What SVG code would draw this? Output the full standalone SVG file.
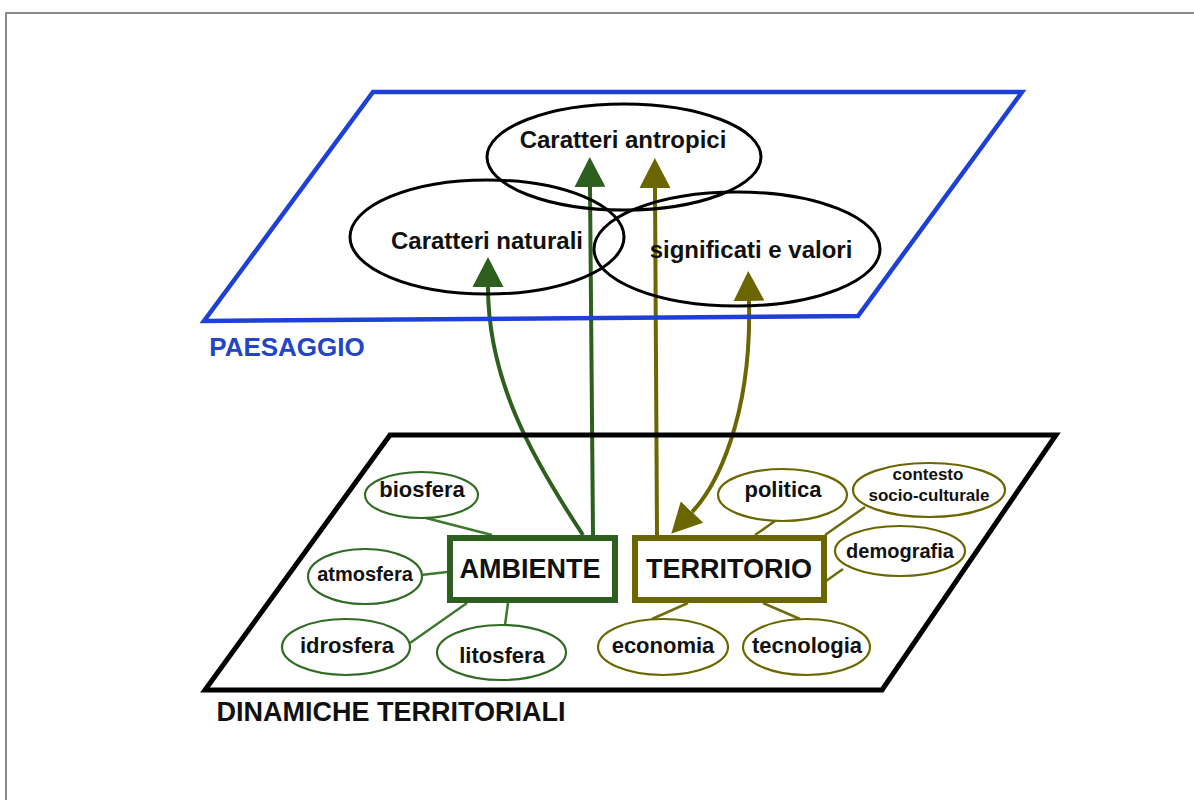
<svg xmlns="http://www.w3.org/2000/svg" width="1194" height="800" viewBox="0 0 1194 800">
<style>
text{font-family:"Liberation Sans",Arial,Helvetica,sans-serif;font-weight:bold;fill:#111;text-anchor:middle}
.big{fill:none;stroke:#000;stroke-width:3}
.gn{fill:#fff;stroke:#2f6b22;stroke-width:2.2}
.ol{fill:#fff;stroke:#6b6700;stroke-width:2.2}
.gl{stroke:#3d7a30;stroke-width:2.5;fill:none}
.oll{stroke:#6f6c10;stroke-width:2.5;fill:none}
.ga{stroke:#2d5f1f;stroke-width:4;fill:none}
.oa{stroke:#6b6600;stroke-width:4;fill:none}
.s{font-size:22px}
.t{font-size:24px}
</style>
<defs>
<marker id="hg" viewBox="0 0 30 31" refX="0" refY="15.5" markerWidth="30" markerHeight="31" markerUnits="userSpaceOnUse" orient="auto-start-reverse"><path d="M0,0 L30,15.5 L0,31 z" fill="#2d5f1f"/></marker>
<marker id="ho" viewBox="0 0 30 31" refX="0" refY="15.5" markerWidth="30" markerHeight="31" markerUnits="userSpaceOnUse" orient="auto-start-reverse"><path d="M0,0 L30,15.5 L0,31 z" fill="#6b6600"/></marker>
</defs>
<rect width="1194" height="800" fill="#fff"/>
<path d="M6,800 V13 H1194" fill="none" stroke="#8a8a8a" stroke-width="2"/>

<g id="connectors">
<path class="ga" d="M583,535 C532,458 488,380 488,287" marker-end="url(#hg)"/>
<path class="ga" d="M593,535 L590,187" marker-end="url(#hg)"/>
<path class="oa" d="M657,535 L655,188" marker-end="url(#ho)"/>
<path class="oa" d="M692,512 C715,488 752,420 749,301" marker-start="url(#ho)" marker-end="url(#ho)"/>
<line class="gl" x1="422" y1="517" x2="492" y2="535"/>
<line class="gl" x1="421" y1="575" x2="447" y2="572"/>
<line class="gl" x1="410" y1="643" x2="467" y2="603"/>
<line class="gl" x1="505" y1="625" x2="508" y2="603"/>
<line class="oll" x1="775" y1="521" x2="755" y2="535"/>
<line class="oll" x1="865" y1="507" x2="825" y2="535"/>
<line class="oll" x1="843" y1="569" x2="826" y2="581"/>
<line class="oll" x1="652" y1="619" x2="688" y2="603"/>
<line class="oll" x1="800" y1="619" x2="763" y2="603"/>
</g>

<g id="paesaggio">
<polygon points="373,92 1022,92 858,316 204,321" fill="none" stroke="#1f40d6" stroke-width="4.5"/>
<text x="287" y="356" style="font-size:26px;fill:#2444c8">PAESAGGIO</text>
</g>

<g id="dinamiche">
<polygon points="390,435 1056,435 882,690 205,690" fill="none" stroke="#000" stroke-width="5"/>
<text x="391" y="721" style="font-size:27px">DINAMICHE TERRITORIALI</text>
</g>

<g id="antropici"><ellipse class="big" cx="624" cy="157" rx="137" ry="53"/><text class="t" x="623" y="148">Caratteri antropici</text></g>
<g id="naturali"><ellipse class="big" cx="487" cy="237" rx="137" ry="57"/><text class="t" x="487" y="249">Caratteri naturali</text></g>
<g id="significati"><ellipse class="big" cx="737" cy="249" rx="143" ry="57"/><text class="t" x="751" y="258">significati e valori</text></g>

<g id="ambiente"><rect x="450" y="538" width="165" height="62" fill="#fff" stroke="#2d5f1f" stroke-width="6"/><text x="530" y="578" style="font-size:27px">AMBIENTE</text></g>
<g id="territorio"><rect x="635" y="538" width="189" height="62" fill="#fff" stroke="#6b6600" stroke-width="6"/><text x="729" y="578" style="font-size:27px">TERRITORIO</text></g>

<g id="biosfera"><ellipse class="gn" cx="421.5" cy="495" rx="56.5" ry="23"/><text class="s" x="422" y="497">biosfera</text></g>
<g id="atmosfera"><ellipse class="gn" cx="365" cy="576.5" rx="57" ry="27.5"/><text x="365" y="581" style="font-size:20px">atmosfera</text></g>
<g id="idrosfera"><ellipse class="gn" cx="346" cy="647" rx="64" ry="28"/><text class="s" x="347" y="653">idrosfera</text></g>
<g id="litosfera"><ellipse class="gn" cx="501.5" cy="652.5" rx="64.5" ry="27.5"/><text class="s" x="502" y="663">litosfera</text></g>

<g id="politica"><ellipse class="ol" cx="782.5" cy="495" rx="64.5" ry="26"/><text class="s" x="783" y="497">politica</text></g>
<g id="contesto"><ellipse class="ol" cx="929" cy="490" rx="76" ry="27"/><text x="928" y="480" style="font-size:17px">contesto</text><text x="929" y="501" style="font-size:17px">socio-culturale</text></g>
<g id="demografia"><ellipse class="ol" cx="900" cy="551" rx="65" ry="25"/><text x="900" y="558" style="font-size:20px">demografia</text></g>
<g id="economia"><ellipse class="ol" cx="663" cy="647" rx="65" ry="28"/><text class="s" x="663" y="653">economia</text></g>
<g id="tecnologia"><ellipse class="ol" cx="806.5" cy="647" rx="63.5" ry="28"/><text class="s" x="807" y="653">tecnologia</text></g>
</svg>
